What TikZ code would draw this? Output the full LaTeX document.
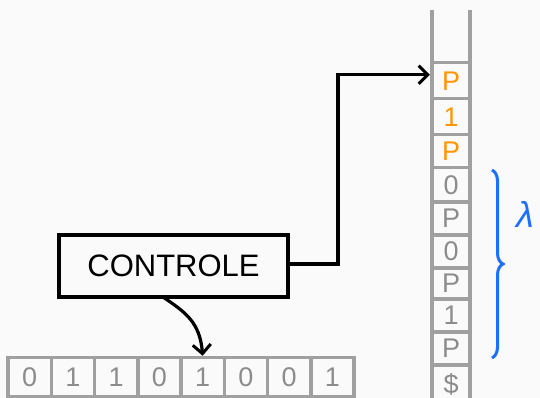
\documentclass[tikz,border=0pt]{standalone}
\usepackage{fontspec}
\setmainfont{Liberation Sans}
\usetikzlibrary{arrows.meta,decorations.pathreplacing}
\definecolor{bg}{RGB}{250,250,250}
\definecolor{cellgray}{RGB}{160,160,160}
\definecolor{symgray}{RGB}{140,140,140}
\definecolor{symorange}{RGB}{255,150,0}
\definecolor{braceblue}{RGB}{30,110,255}
\tikzset{
  cellbox/.style={draw=cellgray, line width=3.5pt, inner sep=0pt, minimum width=39pt, font=\fontsize{27}{27}\selectfont},
  tapebox/.style={draw=cellgray, line width=3.5pt, inner sep=0pt, minimum width=43.25pt, minimum height=39pt, font=\fontsize{27}{27}\selectfont, text=symgray},
  ctrlbox/.style={draw=black, line width=3.5pt, minimum width=229pt, minimum height=62pt, font=\fontsize{31}{31}\selectfont},
  conn/.style={draw=black, line width=3.2pt, -{Straight Barb[length=9pt,width=18pt,line width=3pt]}}
}
\begin{document}
\begin{tikzpicture}[x=1pt,y=-1pt]
\useasboundingbox[fill=bg] (0,0) rectangle (540,398);
% stack rails
\draw[cellgray, line width=3.5pt] (432,10) -- (432,400) (470,10) -- (470,400);
% stack cells
\foreach \i/\t/\b/\s/\c in {1/61/97/P/symorange, 2/97/133/1/symorange, 3/133/166/P/symorange,
  4/166/200/0/symgray, 5/200/233/P/symgray, 6/233/266/0/symgray, 7/266/297/P/symgray,
  8/297/330/1/symgray, 9/330/363/P/symgray, 10/363/402/\$/symgray}{
  \pgfmathsetmacro{\h}{\b-\t}
  \node[cellbox, minimum height=\h pt, text=\c, anchor=north] (s\i) at (451,\t) {\s};
}
% tape
\foreach \i/\s in {1/0,2/1,3/1,4/0,5/1,6/0,7/0,8/1}{
  \node[tapebox] (t\i) at ({8+(\i-0.5)*43.25},377) {\s};
}
% control
\node[ctrlbox] (ctrl) at (173.5,266) {CONTROLE};
\coordinate (bend) at (338,264);
\draw[conn] (ctrl.east |- bend) -- (bend) |- ([yshift=6pt]s1.west);
\coordinate (cstart) at (163,297);
\draw[conn] (cstart) .. controls (185,312) and (200,322) .. (t5.north);
% brace and lambda
\draw[braceblue, line width=3pt, decorate, decoration={brace, amplitude=11pt}] (492,170) -- (492,358);
\node[text=braceblue, font=\fontsize{36}{36}\selectfont\itshape, inner sep=1pt] (lam) at (525,214) {λ};
\end{tikzpicture}
\end{document}
